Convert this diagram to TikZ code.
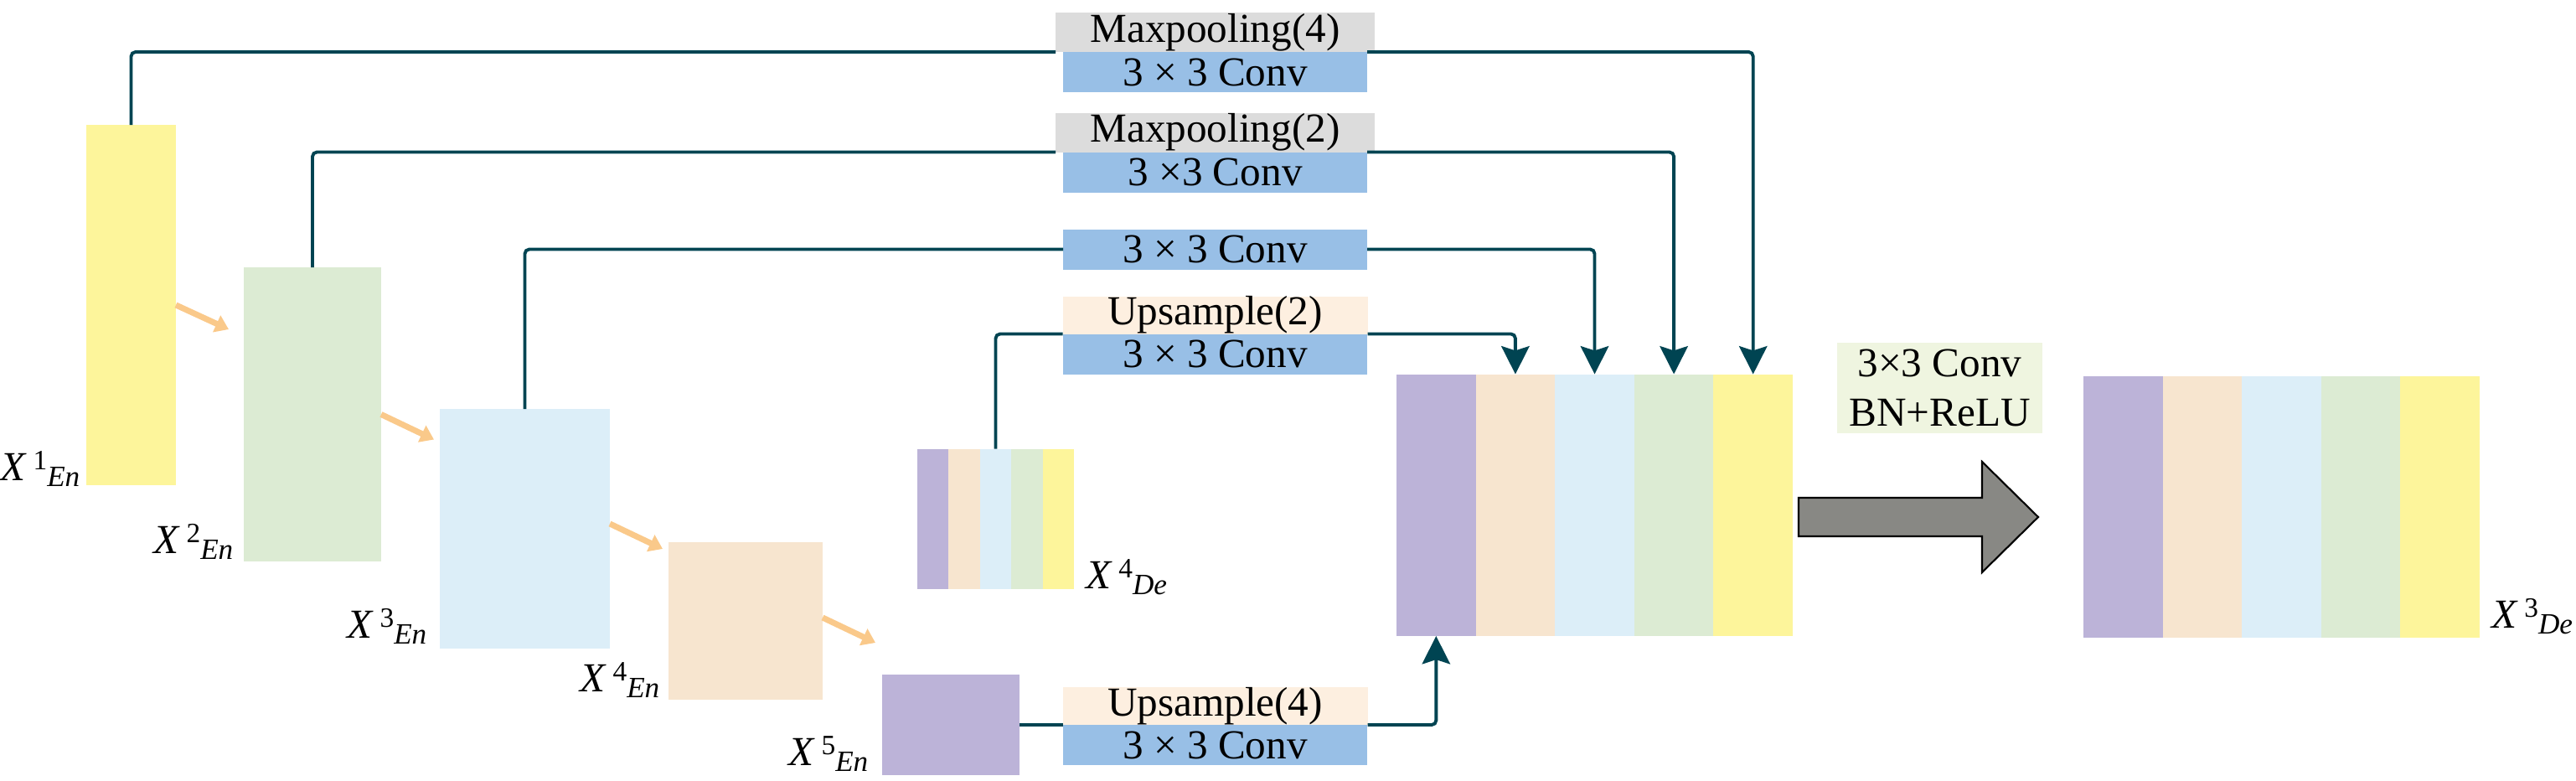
\documentclass[tikz,border=0pt]{standalone}
\usepackage{fontspec}
\setmainfont{Liberation Serif}
\usepackage{tikz}
\usetikzlibrary{positioning}
\usetikzlibrary{arrows.meta}

\definecolor{fmyellow}{HTML}{FDF59B}
\definecolor{fmgreen}{HTML}{DCEBD3}
\definecolor{fmblue}{HTML}{DCEEF8}
\definecolor{fmpeach}{HTML}{F7E5CF}
\definecolor{fmpurple}{HTML}{BCB3D8}
\definecolor{convblue}{HTML}{98BFE6}
\definecolor{poolgray}{HTML}{DCDCDC}
\definecolor{upbeige}{HTML}{FDEFE0}
\definecolor{bnbox}{HTML}{EFF5E0}
\definecolor{linkteal}{HTML}{004452}
\definecolor{pathorange}{HTML}{FAC98A}
\definecolor{bigarrow}{HTML}{888884}

\newcommand{\fmap}[2]{\textit{X}\kern2pt\raisebox{3.5pt}{\fontsize{9.5}{10}\selectfont #1}\raisebox{-2pt}{\fontsize{10}{11}\selectfont\textit{#2}}}

\tikzset{
  fmbox/.style={inner sep=0, outer sep=0, anchor=north west},
  strip/.style={inner sep=0, outer sep=0},
  catstrip/.style={strip, minimum width=0.946cm, minimum height=3.125cm},
  decstrip/.style={strip, minimum width=0.374cm, minimum height=1.67cm},
  outstrip/.style={strip, minimum width=0.945cm, minimum height=3.12cm},
  opbox/.style={inner sep=0, outer sep=0, font=\fontsize{14}{16}\selectfont},
  convbox/.style={opbox, fill=convblue, minimum width=3.63cm, minimum height=0.48cm},
  poolbox/.style={opbox, fill=poolgray, minimum width=3.81cm, minimum height=0.47cm},
  upbox/.style={opbox, fill=upbeige, minimum width=3.64cm, minimum height=0.45cm},
  fmlabel/.style={inner sep=0, font=\fontsize{14}{16}\selectfont},
  link/.style={draw=linkteal, line width=1.1pt, rounded corners=1.5pt},
  linkarrow/.style={link, -{Stealth[length=9.5pt,width=9.5pt,inset=1.5pt]}},
  pool/.style={draw=pathorange, line width=2pt, -{Triangle[length=4.5pt,width=6pt]}}
}

\begin{document}
\begin{tikzpicture}
\useasboundingbox (0,0) rectangle (30.75,9.31);

% encoder feature maps
\node[fmbox, fill=fmyellow, minimum width=1.07cm, minimum height=4.30cm] (enc1) at (1.03,7.82) {};
\node[fmbox, fill=fmgreen, minimum width=1.64cm, minimum height=3.51cm] (enc2) at (2.91,6.12) {};
\node[fmbox, fill=fmblue, minimum width=2.03cm, minimum height=2.86cm] (enc3) at (5.25,4.43) {};
\node[fmbox, fill=fmpeach, minimum width=1.84cm, minimum height=1.88cm] (enc4) at (7.98,2.84) {};
\node[fmbox, fill=fmpurple, minimum width=1.64cm, minimum height=1.20cm] (enc5) at (10.53,1.26) {};

\node[fmlabel, anchor=base east] (lab1) at (0.96,3.58) {\fmap{1}{En}};
\node[fmlabel, anchor=base east] (lab2) at (2.79,2.71) {\fmap{2}{En}};
\node[fmlabel, anchor=base east] (lab3) at (5.10,1.70) {\fmap{3}{En}};
\node[fmlabel, anchor=base east] (lab4) at (7.88,1.06) {\fmap{4}{En}};
\node[fmlabel, anchor=base east] (lab5) at (10.37,0.18) {\fmap{5}{En}};

\draw[pool] (enc1.east) -- ++(0.63,-0.29);
\draw[pool] (enc2.east) -- ++(0.63,-0.30);
\draw[pool] ([yshift=0.06cm]enc3.east) -- ++(0.63,-0.30);
\draw[pool] ([yshift=0.04cm]enc4.east) -- ++(0.63,-0.30);

% decoder X4
\node[decstrip, fill=fmpurple, anchor=north west] (dec1) at (10.95,3.955) {};
\node[decstrip, fill=fmpeach, right=0pt of dec1] (dec2) {};
\node[decstrip, fill=fmblue, right=0pt of dec2] (dec3) {};
\node[decstrip, fill=fmgreen, right=0pt of dec3] (dec4) {};
\node[decstrip, fill=fmyellow, right=0pt of dec4] (dec5) {};
\node[fmlabel, anchor=base west] (labdec) at (12.96,2.29) {\fmap{4}{De}};

% operations
\node[convbox] (conv1) at (14.505,8.45) {3 × 3 Conv};
\node[poolbox, above=0pt of conv1] (mp4) {Maxpooling(4)};
\node[convbox] (conv2) at (14.505,7.255) {3 ×3 Conv};
\node[poolbox, above=0pt of conv2] (mp2) {Maxpooling(2)};
\node[convbox] (conv3) at (14.505,6.335) {3 × 3 Conv};
\node[convbox] (conv4) at (14.505,5.085) {3 × 3 Conv};
\node[upbox, above=0pt of conv4] (up2) {Upsample(2)};
\node[convbox] (conv5) at (14.505,0.42) {3 × 3 Conv};
\node[upbox, above=0pt of conv5] (up4) {Upsample(4)};

% concatenation
\node[catstrip, fill=fmpurple, anchor=north west] (cat1) at (16.67,4.845) {};
\node[catstrip, fill=fmpeach, right=0pt of cat1] (cat2) {};
\node[catstrip, fill=fmblue, right=0pt of cat2] (cat3) {};
\node[catstrip, fill=fmgreen, right=0pt of cat3] (cat4) {};
\node[catstrip, fill=fmyellow, right=0pt of cat4] (cat5) {};

% skip connections
\draw[link] (enc1.north) |- (mp4.south west);
\draw[linkarrow] (conv1.north east) -| (cat5.north);
\draw[link] (enc2.north) |- (mp2.south west);
\draw[linkarrow] (conv2.north east) -| (cat4.north);
\draw[link] (enc3.north) |- (conv3.west);
\draw[linkarrow] (conv3.east) -| (cat3.north);
\draw[link] (dec3.north) |- (up2.south west);
\draw[linkarrow] (up2.south east) -| (cat2.north);
\draw[link] (enc5.east) -- (up4.south west);
\draw[linkarrow] (up4.south east) -| (cat1.south);

% fusion step
\node[opbox, fill=bnbox, minimum width=2.45cm, minimum height=1.08cm, align=center, font=\fontsize{14}{17}\selectfont] (bn) at (23.155,4.68) {3×3 Conv\\BN+ReLU};
\draw[fill=bigarrow, draw=black, line width=0.6pt] (21.47,2.91) -- (23.66,2.91) -- (23.66,2.48) -- (24.33,3.14) -- (23.66,3.80) -- (23.66,3.37) -- (21.47,3.37) -- cycle;

% output X3
\node[outstrip, fill=fmpurple, anchor=north west] (out1) at (24.87,4.82) {};
\node[outstrip, fill=fmpeach, right=0pt of out1] (out2) {};
\node[outstrip, fill=fmblue, right=0pt of out2] (out3) {};
\node[outstrip, fill=fmgreen, right=0pt of out3] (out4) {};
\node[outstrip, fill=fmyellow, right=0pt of out4] (out5) {};
\node[fmlabel, anchor=base west] (labout) at (29.74,1.82) {\fmap{3}{De}};

\end{tikzpicture}
\end{document}
